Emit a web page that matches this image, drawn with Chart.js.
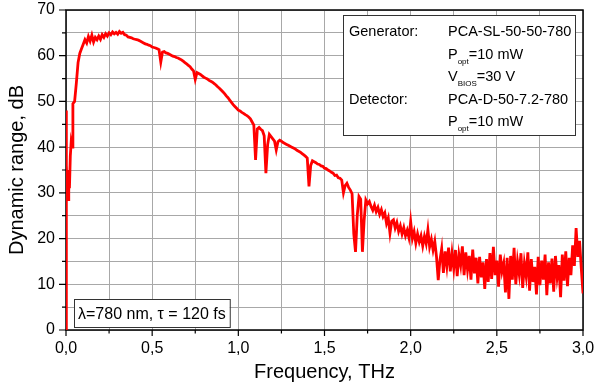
<!DOCTYPE html>
<html>
<head>
<meta charset="utf-8">
<script src="https://cdn.jsdelivr.net/npm/chart.js@4/dist/chart.umd.min.js"></script>
<style>
    html, body { margin: 0; padding: 0; background: #fff; }
    #wrap { width: 600px; height: 389px; }
</style>
</head>
<body>
<div id="wrap"><canvas id="drChart" width="600" height="389"></canvas></div>
<script>
// Irregular points at the very start (vertical rise at 0 THz)
const edgeFreq = [0, 0, 0.004, 0.008, 0.012, 0.016, 0.02, 0.025, 0.03, 0.035];
const edgeDr   = [0, 48, 36, 30, 28.5, 35, 31, 38, 41, 40];

// Sampled curve from 0.04 THz onwards, one value every 0.01 THz
const gridStart = 0.04;
const gridStep = 0.01;
const gridDr = [
    49.5, 50, 54, 58.5, 60.5, 61.5,                                  // 0.04
    62.5, 63.5, 62.8, 64.2, 63.2, 64.5, 63.0, 64.0, 63.5, 64.3,      // 0.10
    63.6, 64.6, 64.0, 64.8, 64.3, 65.0, 64.6, 65.2, 64.8, 65.1,      // 0.20
    64.7, 65.3, 64.9, 65.1, 64.6, 64.5, 64.1, 64.0, 63.9, 63.7,      // 0.30
    63.6, 63.5, 63.4, 63.2, 63.0, 62.8, 62.6, 62.5, 62.3, 62.2,      // 0.40
    61.9, 61.8, 61.7, 61.5, 61.3, 58.6, 60.8, 60.9, 60.6, 60.5,      // 0.50
    60.3, 60.1, 59.9, 59.8, 59.6, 59.5, 59.3, 59.1, 58.8, 58.5,      // 0.60
    58.2, 57.9, 57.6, 57.1, 56.7, 54.8, 56.3, 56.1, 55.9, 55.6,      // 0.70
    55.3, 55.1, 54.9, 54.6, 54.4, 54.2, 53.9, 53.6, 53.2, 52.9,      // 0.80
    52.5, 52.1, 51.7, 51.2, 50.8, 50.3, 49.8, 49.3, 48.9, 48.5,      // 0.90
    48.1, 47.9, 47.6, 47.4, 47.1, 46.9, 46.6, 46.2, 45.5, 44.8,      // 1.00
    37.2, 44.0, 44.3, 43.9, 43.6, 42.5, 34.3, 40.5, 42.8, 42.3,      // 1.10
    41.8, 41.3, 39.4, 41.2, 41.5, 41.3, 41.0, 40.8, 40.6, 40.4,      // 1.20
    40.2, 40.0, 39.8, 39.6, 39.3, 39.1, 38.9, 38.6, 38.3, 38.0,      // 1.30
    37.6, 31.4, 36.0, 37.0, 36.8, 36.6, 36.3, 36.2, 35.9, 35.8,      // 1.40
    35.4, 35.3, 35.0, 34.8, 34.5, 34.3, 33.8, 33.9, 33.3, 33.2,      // 1.50
    32.8, 30.0, 31.6, 32.1, 31.2, 30.6, 29.8, 21.0, 17.1, 25.0,      // 1.60
    29.2, 28.6, 17.1, 24.0, 28.4, 27.6, 28.1, 27.0, 26.2, 27.3,      // 1.70
    25.9, 26.8, 25.3, 26.3, 24.8, 25.6, 23.3, 24.5, 21.2, 23.8,      // 1.80
    24.1, 22.3, 23.5, 21.6, 22.8, 21.0, 22.4, 20.6, 21.8, 20.2,      // 1.90
    23.7, 20.0, 21.5, 19.0, 21.0, 19.3, 20.6, 18.4, 20.5, 18.9,      // 2.00
    21.9, 18.2, 19.8, 17.5, 19.4, 16.0, 10.9, 15.3, 17.8, 12.5,      // 2.10
    17.2, 14.0, 18.0, 12.8, 16.8, 13.5, 17.5, 11.8, 16.5, 14.2,      // 2.20
    18.3, 12.0, 17.0, 13.2, 16.2, 11.0, 17.6, 12.4, 15.8, 10.2,      // 2.30
    16.0, 11.5, 14.8, 9.0, 15.5, 10.5, 16.8, 11.2, 18.2, 12.0,       // 2.40
    15.2, 9.5, 16.5, 12.8, 14.6, 8.2, 15.8, 6.8, 16.2, 11.0,         // 2.50
    18.0, 10.0, 15.0, 12.2, 16.8, 9.2, 14.5, 11.8, 17.0, 8.6,        // 2.60
    15.5, 10.5, 13.8, 7.8, 16.0, 9.8, 15.2, 11.0, 16.5, 7.6,         // 2.70
    14.8, 10.2, 15.6, 8.4, 16.2, 11.5, 14.2, 7.2, 16.5, 10.8,        // 2.80
    17.2, 9.6, 15.8, 12.0, 18.5, 14.0, 22.3, 16.0, 19.5, 13.5,       // 2.90
    8.0                                                              // 3.00
];

const xMin = 0, xMax = 3, xStep = 0.25, xLabelEvery = 0.5;
const yMin = 0, yMax = 70, yStep = 5, yLabelEvery = 10;

// Annotation text (parts with sub: true are subscripts)
const infoRows = [
    [[{ t: 'Generator:' }], [{ t: 'PCA-SL-50-50-780' }]],
    [[], [{ t: 'P' }, { t: 'opt', sub: true }, { t: '=10 mW' }]],
    [[], [{ t: 'V' }, { t: 'BIOS', sub: true }, { t: '=30 V' }]],
    [[{ t: 'Detector:' }], [{ t: 'PCA-D-50-7.2-780' }]],
    [[], [{ t: 'P' }, { t: 'opt', sub: true }, { t: '=10 mW' }]]
];
const pulseNote = [{ t: '\u03bb=780 nm, \u03c4 = 120 fs' }];

const FONT = '"Liberation Sans", Arial, sans-serif';

const points = edgeFreq.map((f, i) => ({ x: f, y: edgeDr[i] }));
gridDr.forEach((v, i) => points.push({ x: +(gridStart + i * gridStep).toFixed(2), y: v }));

const isMultiple = (v, m) => Math.abs(v / m - Math.round(v / m)) < 1e-6;
const fmtComma = v => v.toFixed(1).replace('.', ',');

function drawRich(ctx, x, y, parts, size) {
    parts.forEach(p => {
        if (p.sub) {
            ctx.font = `${Math.round(size * 0.55)}px ${FONT}`;
            ctx.fillText(p.t, x, y + 5);
        } else {
            ctx.font = `${size}px ${FONT}`;
            ctx.fillText(p.t, x, y);
        }
        x += ctx.measureText(p.t).width;
    });
    return x;
}

const framePlugin = {
    id: 'frame',
    beforeDatasetsDraw(chart) {
        const { ctx, chartArea: a } = chart;
        ctx.save();
        ctx.strokeStyle = '#000';
        ctx.lineWidth = 1.5;
        ctx.strokeRect(a.left, a.top, a.right - a.left, a.bottom - a.top);

        // tick marks, outward
        const xs = chart.scales.x, ys = chart.scales.y;
        ctx.lineWidth = 1.2;
        ctx.beginPath();
        xs.ticks.forEach(t => {
            const px = xs.getPixelForValue(t.value);
            const len = isMultiple(t.value, xLabelEvery) ? 6 : 3.5;
            ctx.moveTo(px, a.bottom);
            ctx.lineTo(px, a.bottom + len);
        });
        ys.ticks.forEach(t => {
            const py = ys.getPixelForValue(t.value);
            const len = isMultiple(t.value, yLabelEvery) ? 7 : 4;
            ctx.moveTo(a.left, py);
            ctx.lineTo(a.left - len, py);
        });
        ctx.stroke();
        ctx.restore();
    },
    afterDatasetsDraw(chart) {
        const { ctx, chartArea: a } = chart;
        ctx.save();
        ctx.textBaseline = 'alphabetic';
        ctx.fillStyle = '#000';

        // info box, top right
        const bx = a.left + 277, by = a.top + 5, bw = 232, bh = 120;
        ctx.fillStyle = '#fff';
        ctx.fillRect(bx, by, bw, bh);
        ctx.strokeStyle = '#333';
        ctx.lineWidth = 1;
        ctx.strokeRect(bx + 0.5, by + 0.5, bw, bh);
        ctx.fillStyle = '#000';
        infoRows.forEach((row, i) => {
            const base = by + 21 + i * 22.5;
            drawRich(ctx, bx + 6, base, row[0], 14.5);
            drawRich(ctx, bx + 105, base, row[1], 14.5);
        });

        // pulse note, bottom left
        ctx.font = `16px ${FONT}`;
        const nx = a.left + 8, ny = a.bottom - 31;
        const nw = ctx.measureText(pulseNote[0].t).width + 8;
        ctx.fillStyle = '#fff';
        ctx.fillRect(nx, ny, nw, 28);
        ctx.strokeRect(nx + 0.5, ny + 0.5, nw, 28);
        ctx.fillStyle = '#000';
        drawRich(ctx, nx + 4, ny + 20, pulseNote, 16);
        ctx.restore();
    }
};

new Chart(document.getElementById('drChart').getContext('2d'), {
    type: 'line',
    data: {
        datasets: [{
            data: points,
            borderColor: '#ff0000',
            borderWidth: 2.8,
            pointRadius: 0,
            tension: 0,
            fill: false
        }]
    },
    options: {
        responsive: false,
        animation: false,
        layout: { padding: { left: 5, right: 17, top: 10, bottom: 5 } },
        plugins: { legend: { display: false }, tooltip: { enabled: false } },
        scales: {
            x: {
                type: 'linear',
                min: xMin,
                max: xMax,
                grid: { color: '#a8a8a8', lineWidth: 1, drawTicks: false },
                border: { display: false },
                ticks: {
                    stepSize: xStep,
                    padding: 9,
                    autoSkip: false,
                    maxRotation: 0,
                    color: '#000',
                    font: { family: FONT, size: 16 },
                    callback: v => isMultiple(v, xLabelEvery) ? fmtComma(v) : ''
                },
                title: {
                    display: true,
                    text: 'Frequency, THz',
                    color: '#000',
                    font: { family: FONT, size: 20 },
                    padding: { top: 2, bottom: 0 }
                },
                afterFit(scale) {
                    scale.height = 54;
                    scale.paddingLeft = 0;
                    scale.paddingRight = 0;
                }
            },
            y: {
                min: yMin,
                max: yMax,
                grid: { color: '#a8a8a8', lineWidth: 1, drawTicks: false },
                border: { display: false },
                ticks: {
                    stepSize: yStep,
                    padding: 11,
                    autoSkip: false,
                    color: '#000',
                    font: { family: FONT, size: 16 },
                    callback: v => isMultiple(v, yLabelEvery) ? String(v) : ''
                },
                title: {
                    display: true,
                    text: 'Dynamic range, dB',
                    color: '#000',
                    font: { family: FONT, size: 20 },
                    padding: { top: 0, bottom: 8 }
                },
                afterFit(scale) {
                    scale.width = 61;
                    scale.paddingTop = 0;
                    scale.paddingBottom = 0;
                }
            }
        }
    },
    plugins: [framePlugin]
});
</script>
</body>
</html>
